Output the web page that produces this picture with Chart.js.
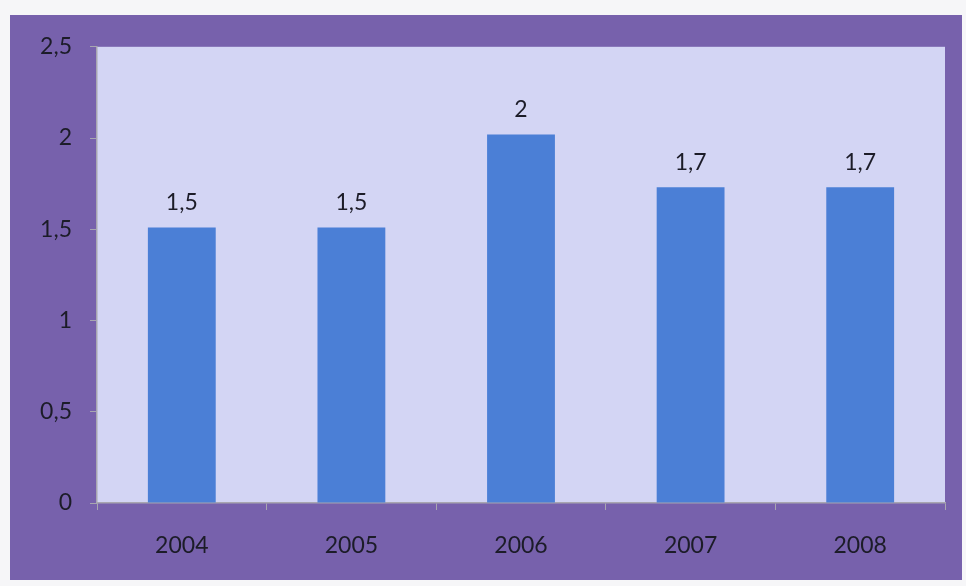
<!DOCTYPE html>
<html>
<head>
<meta charset="utf-8">
<script src="https://cdn.jsdelivr.net/npm/chart.js@4/dist/chart.umd.min.js"></script>
<style>
    html, body { margin: 0; padding: 0; background: #f6f6f8; }
    #frame {
        position: absolute;
        left: 10px; top: 15px;
        width: 952px; height: 565px;
        background: #7761ac;
    }
</style>
</head>
<body>
<div id="frame"><canvas id="chart"></canvas></div>
<script>
const years = ['2004', '2005', '2006', '2007', '2008'];
const values = [1.51, 1.51, 2.02, 1.73, 1.73];
const yTicks = [0, 0.5, 1, 1.5, 2, 2.5];

// comma as decimal separator, one decimal like the labels in the picture
function fmt(v) {
    return String(Math.round(v * 10) / 10).replace('.', ',');
}

// light plot area behind the bars
const plotBackground = {
    id: 'plotBackground',
    beforeDraw(chart) {
        const a = chart.chartArea;
        const ctx = chart.ctx;
        ctx.save();
        ctx.fillStyle = '#d3d5f4';
        ctx.fillRect(a.left, a.top, a.right - a.left, a.bottom - a.top);
        ctx.restore();
    }
};

// value labels above each bar
const valueLabels = {
    id: 'valueLabels',
    afterDatasetsDraw(chart) {
        const ctx = chart.ctx;
        const meta = chart.getDatasetMeta(0);
        ctx.save();
        ctx.font = '23px Lato, "Open Sans", sans-serif';
        ctx.fillStyle = '#1c1c28';
        ctx.textAlign = 'center';
        ctx.textBaseline = 'middle';
        meta.data.forEach((bar, i) => {
            ctx.fillText(fmt(values[i]), bar.x, bar.y - 25);
        });
        ctx.restore();
    }
};

new Chart(document.getElementById('chart'), {
    type: 'bar',
    data: {
        labels: years,
        datasets: [{
            data: values,
            backgroundColor: '#4b7fd6',
            barPercentage: 0.4,
            categoryPercentage: 1.0
        }]
    },
    options: {
        responsive: true,
        maintainAspectRatio: false,
        animation: false,
        layout: { padding: { top: 31, right: 17, left: 0, bottom: 0 } },
        plugins: {
            legend: { display: false },
            tooltip: { enabled: false }
        },
        scales: {
            x: {
                afterFit(scale) { scale.height = 77; },
                grid: {
                    drawOnChartArea: false,
                    drawTicks: true,
                    tickLength: 7,
                    color: '#a8a6b0'
                },
                border: { color: '#a8a6b0', width: 1.5 },
                ticks: {
                    color: '#1c1c28',
                    padding: 22,
                    font: { family: 'Lato, "Open Sans", sans-serif', size: 23 }
                }
            },
            y: {
                min: 0,
                max: 2.5,
                afterFit(scale) { scale.width = 87; },
                afterBuildTicks(scale) {
                    scale.ticks = yTicks.map(v => ({ value: v }));
                },
                grid: {
                    drawOnChartArea: false,
                    drawTicks: true,
                    tickLength: 7,
                    color: '#a8a6b0'
                },
                border: { color: '#a8a6b0', width: 1.5 },
                ticks: {
                    color: '#1c1c28',
                    padding: 18,
                    font: { family: 'Lato, "Open Sans", sans-serif', size: 23 },
                    callback: v => fmt(v)
                }
            }
        }
    },
    plugins: [plotBackground, valueLabels]
});
</script>
</body>
</html>
